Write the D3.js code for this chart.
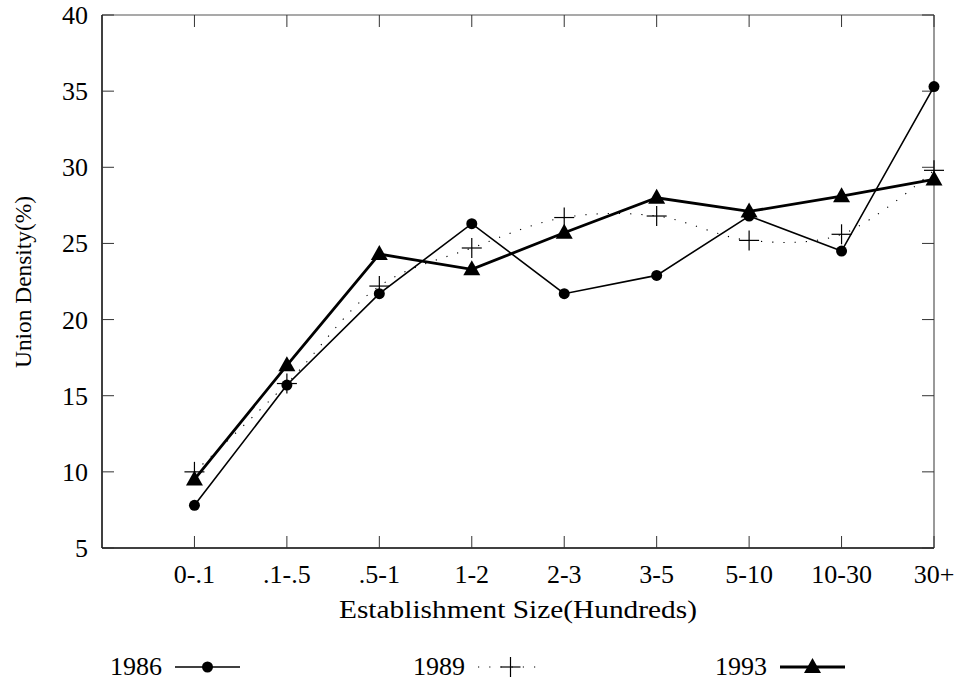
<!DOCTYPE html>
<html><head><meta charset="utf-8">
<script src="https://cdn.jsdelivr.net/npm/d3@7"></script>
<style>body{margin:0;background:#fff}svg{display:block}text{font-family:"Liberation Serif","DejaVu Serif",serif;fill:#000}</style>
</head><body>
<svg id="c" width="961" height="685"></svg>
<script>
const categories = ["0-.1", ".1-.5", ".5-1", "1-2", "2-3", "3-5", "5-10", "10-30", "30+"];
const s1986 = [7.8, 15.7, 21.7, 26.3, 21.7, 22.9, 26.8, 24.5, 35.3];
const s1989 = [10.0, 15.8, 22.2, 24.7, 26.7, 26.8, 25.2, 25.6, 29.8];
const s1993 = [9.5, 17.0, 24.3, 23.3, 25.7, 28.0, 27.1, 28.1, 29.2];
const yTicks = [5, 10, 15, 20, 25, 30, 35, 40];
const seriesNames = ["1986", "1989", "1993"];

const svg = d3.select("#c");
const L = 102, R = 934, T = 15, B = 548;
const x = d3.scaleLinear().domain([0, 9]).range([L, R]);
const y = d3.scaleLinear().domain([5, 40]).range([B, T]);
const fs = 26;

svg.append("line").attr("x1", L).attr("x2", R).attr("y1", T).attr("y2", T).attr("stroke", "#555").attr("stroke-width", 1.2);
svg.append("line").attr("x1", R).attr("x2", R).attr("y1", T).attr("y2", B).attr("stroke", "#555").attr("stroke-width", 1.2);
svg.append("line").attr("x1", L).attr("x2", L).attr("y1", T).attr("y2", B).attr("stroke", "#000").attr("stroke-width", 1.5);
svg.append("line").attr("x1", L).attr("x2", R).attr("y1", B).attr("y2", B).attr("stroke", "#000").attr("stroke-width", 1.5);

const tk = 12;
yTicks.forEach(v => {
  svg.append("line").attr("x1", L).attr("x2", L + tk).attr("y1", y(v)).attr("y2", y(v)).attr("stroke", "#333").attr("stroke-width", 1);
  svg.append("line").attr("x1", R - tk).attr("x2", R).attr("y1", y(v)).attr("y2", y(v)).attr("stroke", "#333").attr("stroke-width", 1);
  svg.append("text").attr("x", 88).attr("y", y(v) + 9).attr("text-anchor", "end").attr("font-size", fs).text(v);
});
categories.forEach((c, i) => {
  const xp = x(i + 1);
  svg.append("line").attr("x1", xp).attr("x2", xp).attr("y1", B).attr("y2", B - tk).attr("stroke", "#333").attr("stroke-width", 1);
  svg.append("line").attr("x1", xp).attr("x2", xp).attr("y1", T).attr("y2", T + tk).attr("stroke", "#333").attr("stroke-width", 1);
  svg.append("text").attr("x", xp).attr("y", 583).attr("text-anchor", "middle").attr("font-size", fs).text(c);
});

svg.append("text").attr("x", 518).attr("y", 618).attr("text-anchor", "middle").attr("font-size", fs)
  .attr("textLength", 358).attr("lengthAdjust", "spacingAndGlyphs").text("Establishment Size(Hundreds)");
svg.append("text").attr("transform", "translate(31,282) rotate(-90)").attr("text-anchor", "middle").attr("font-size", 24)
  .attr("textLength", 172).attr("lengthAdjust", "spacingAndGlyphs").text("Union Density(%)");

const lineStraight = d3.line().x((d, i) => x(i + 1)).y(d => y(d));
const lineCurve = d3.line().x((d, i) => x(i + 1)).y(d => y(d)).curve(d3.curveCatmullRom.alpha(0.5));

svg.append("path").attr("d", lineCurve(s1989)).attr("fill", "none").attr("stroke", "#000").attr("stroke-width", 1.1).attr("stroke-dasharray", "1.2,10");
svg.append("path").attr("d", lineStraight(s1986)).attr("fill", "none").attr("stroke", "#000").attr("stroke-width", 1.6);
svg.append("path").attr("d", lineStraight(s1993)).attr("fill", "none").attr("stroke", "#000").attr("stroke-width", 2.8);

function circ(g, cx, cy) { g.append("circle").attr("cx", cx).attr("cy", cy).attr("r", 5.5).attr("fill", "#000"); }
function plus(g, cx, cy) {
  g.append("line").attr("x1", cx - 10).attr("x2", cx + 10).attr("y1", cy).attr("y2", cy).attr("stroke", "#000").attr("stroke-width", 1.2);
  g.append("line").attr("x1", cx).attr("x2", cx).attr("y1", cy - 10).attr("y2", cy + 10).attr("stroke", "#000").attr("stroke-width", 1.2);
}
function tri(g, cx, cy) {
  g.append("path").attr("d", `M${cx},${cy - 9}L${cx + 8.5},${cy + 6}L${cx - 8.5},${cy + 6}Z`).attr("fill", "#000");
}
const g = svg.append("g");
s1989.forEach((v, i) => plus(g, x(i + 1), y(v)));
s1986.forEach((v, i) => circ(g, x(i + 1), y(v)));
s1993.forEach((v, i) => tri(g, x(i + 1), y(v)));

const ly = 667;
const legX = [110, 413, 715];
const drawers = [circ, plus, tri];
seriesNames.forEach((n, k) => {
  const lx = legX[k];
  svg.append("text").attr("x", lx).attr("y", ly + 8).attr("font-size", fs).text(n);
  const a = lx + 65, b = lx + 130;
  const ln = svg.append("line").attr("x1", a).attr("x2", b).attr("y1", ly).attr("y2", ly).attr("stroke", "#000");
  if (k === 0) ln.attr("stroke-width", 1.6);
  if (k === 1) ln.attr("stroke-width", 1.1).attr("stroke-dasharray", "1.2,10");
  if (k === 2) ln.attr("stroke-width", 2.8);
  drawers[k](svg, (a + b) / 2, ly);
});
</script>
</body></html>
